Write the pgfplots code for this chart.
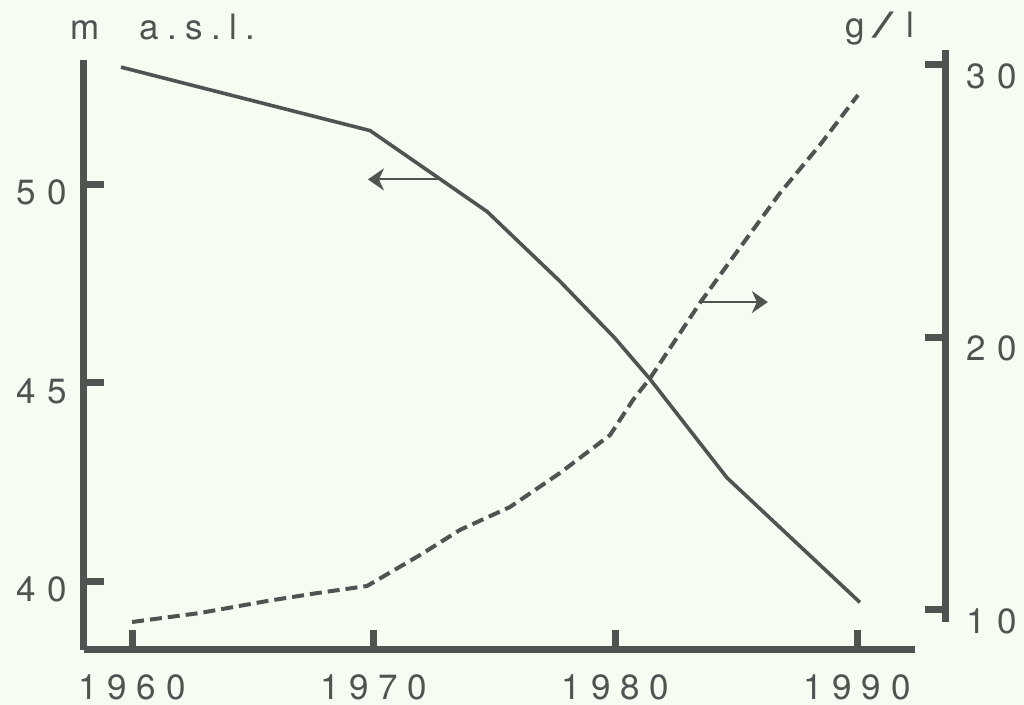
\documentclass[border=0pt]{standalone}
\usepackage{pgfplots}
\pgfplotsset{compat=1.18}
\usepackage{fontspec}
\setmainfont{TeX Gyre Heros}
\usetikzlibrary{arrows.meta}
\definecolor{bg}{RGB}{246,252,242}
\definecolor{ink}{RGB}{78,84,80}

\pgfplotsset{
  every axis/.append style={
    scale only axis, clip=false, anchor=south west,
    axis line style={ink, line width=3.5pt},
    major tick style={ink, line width=3.5pt},
    major tick length=10pt, tick align=inside,
    tick label style={ink, font=\fontsize{17.5}{21}\selectfont},
  }
}

\begin{document}
\begin{tikzpicture}
\fill[bg] (0,0) rectangle (512pt,352.5pt);
\useasboundingbox (0,0) rectangle (512pt,352.5pt);

% water level (left axis)
\begin{axis}[
  at={(42pt,27.5pt)}, width=415.5pt, height=295pt,
  xmin=1958.01, xmax=1992.40, ymin=38.27, ymax=53.14,
  axis x line*=bottom, axis y line*=left,
  xtick={1960,1970,1980,1990},
  xticklabels={1 9 6 0,1 9 7 0,1 9 8 0,1 9 9 0},
  ytick={40,45,50}, yticklabels={4\hspace{6pt}0,4\hspace{6pt}5,5\hspace{6pt}0},
  xticklabel style={yshift=-9pt},
  yticklabel style={xshift=-5pt,yshift=-4pt},
]
\addplot[ink, line width=1.8pt, line join=round] coordinates {
(1959.54,52.96) (1969.85,51.36) (1974.69,49.32) (1977.71,47.56)
(1979.98,46.13) (1981.43,45.10) (1984.62,42.61) (1990.12,39.47)
};
\draw[ink, line width=1pt, -{Stealth[length=8pt,width=11pt,inset=2.5pt]}]
  (axis cs:1972.74,50.13) -- (axis cs:1969.76,50.13);
\end{axis}

% salinity (right axis)
\begin{axis}[
  at={(42pt,41.5pt)}, width=430.5pt, height=286pt,
  xmin=1958.01, xmax=1993.64, ymin=9.56, ymax=30.55,
  axis x line=none, axis y line*=right,
  xtick=\empty,
  ytick={10,20,30}, yticklabels={1\hspace{6pt}0,2\hspace{6pt}0,3\hspace{6pt}0},
  yticklabel style={xshift=7pt,yshift=-5.5pt},
]
\addplot[ink, line width=2pt, dash pattern=on 6pt off 3pt] coordinates {
(1960.00,9.56) (1962.81,9.89) (1965.59,10.33) (1967.65,10.62)
(1969.72,10.88) (1971.92,12.02) (1973.57,12.94) (1975.64,13.78)
(1977.71,15.03) (1979.78,16.42) (1980.73,17.71) (1981.44,18.51)
(1983.50,21.27) (1984.87,22.95) (1986.81,25.30) (1988.46,27.06)
(1990.04,28.90)
};
\draw[ink, line width=1pt, -{Stealth[length=8pt,width=11pt,inset=2.5pt]}]
  (axis cs:1983.50,21.30) -- (axis cs:1986.31,21.30);
\end{axis}

\node[ink, anchor=base west, inner sep=0pt, font=\fontsize{17.5}{21}\selectfont]
  at (35pt,332.5pt) {m\hspace{20pt}a\hspace{4.2pt}.\hspace{4.2pt}s\hspace{4.2pt}.\hspace{4.2pt}l\hspace{4.2pt}.};
\node[ink, anchor=base west, inner sep=0pt, font=\fontsize{17.5}{21}\selectfont]
  at (422.5pt,333.5pt) {g\hspace{4pt}\scalebox{2.2}[1]{/}\hspace{6pt}l};
\end{tikzpicture}
\end{document}
